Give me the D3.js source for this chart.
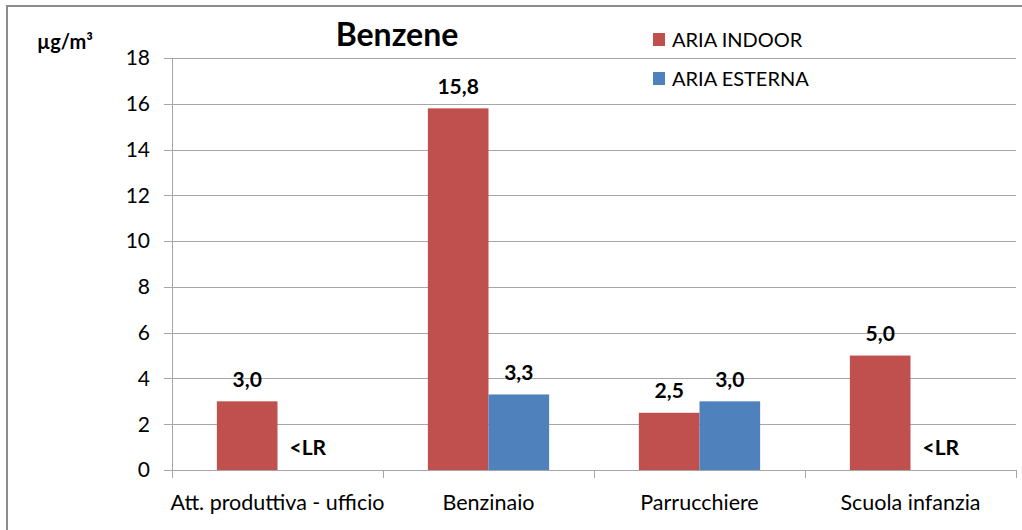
<!DOCTYPE html>
<html>
<head>
<meta charset="utf-8">
<script src="https://cdn.jsdelivr.net/npm/d3@7"></script>
<style>
  body { margin: 0; background: #fff; }
  svg { display: block; font-family: Lato, "Open Sans", sans-serif; }
</style>
</head>
<body>
<script>
// data
const categories = ["Att. produttiva - ufficio", "Benzinaio", "Parrucchiere", "Scuola infanzia"];
const seriesNames = ["ARIA INDOOR", "ARIA ESTERNA"];
const indoor = [3.0, 15.8, 2.5, 5.0];
const esterna = [null, 3.3, 3.0, null]; // null = below detection limit (<LR)
const yTicks = [0, 2, 4, 6, 8, 10, 12, 14, 16, 18];

const colors = ["#C0504D", "#4F81BD"];
const width = 1022, height = 530;
const margin = {left: 172, right: 6, top: 58, bottom: 60};

const svg = d3.select("body").append("svg")
    .attr("width", width)
    .attr("height", height);

// outer frame (only top/left visible in the picture)
svg.append("path")
    .attr("d", "M7,530 V6 H1022")
    .attr("fill", "none")
    .attr("stroke", "#8c8c8c")
    .attr("stroke-width", 2);

const x = d3.scaleBand()
    .domain(categories)
    .range([margin.left, 1016]);

const sub = d3.scaleBand()
    .domain(seriesNames)
    .range([0, x.bandwidth()])
    .paddingOuter(0.74)
    .paddingInner(0);

const y = d3.scaleLinear()
    .domain([0, 18])
    .range([470, margin.top]);

// gridlines
svg.append("g")
    .selectAll("line")
    .data(yTicks)
    .join("line")
      .attr("x1", margin.left - 8)
      .attr("x2", 1016)
      .attr("y1", d => Math.round(y(d)) + 0.5)
      .attr("y2", d => Math.round(y(d)) + 0.5)
      .attr("stroke", "#a6a6a6");

// y tick labels
svg.append("g")
    .attr("font-size", 21)
    .attr("text-anchor", "end")
    .selectAll("text")
    .data(yTicks)
    .join("text")
      .attr("x", 150)
      .attr("y", d => y(d))
      .attr("dy", "0.35em")
      .attr("fill", "#000")
      .text(d => d);

// y axis line
svg.append("line")
    .attr("x1", margin.left + 0.5).attr("x2", margin.left + 0.5)
    .attr("y1", y(18)).attr("y2", y(0))
    .attr("stroke", "#a6a6a6");

// x axis category ticks
const xTickPos = categories.map(c => x(c)).concat([x.range()[1]]);
svg.append("g")
    .selectAll("line")
    .data(xTickPos)
    .join("line")
      .attr("x1", d => Math.round(d) + 0.5)
      .attr("x2", d => Math.round(d) + 0.5)
      .attr("y1", y(0))
      .attr("y2", y(0) + 8)
      .attr("stroke", "#a6a6a6");

// bars
const rows = categories.map((c, i) => ({cat: c, vals: [indoor[i], esterna[i]]}));

const groups = svg.append("g")
    .selectAll("g")
    .data(rows)
    .join("g")
      .attr("transform", d => `translate(${x(d.cat)},0)`);

groups.selectAll("rect")
    .data(d => d.vals.map((v, j) => ({v, j})).filter(e => e.v != null))
    .join("rect")
      .attr("x", e => sub(seriesNames[e.j]))
      .attr("width", sub.bandwidth())
      .attr("y", e => y(e.v))
      .attr("height", e => y(0) - y(e.v))
      .attr("fill", e => colors[e.j]);

groups.selectAll("text")
    .data(d => d.vals.map((v, j) => ({v, j})))
    .join("text")
      .attr("x", e => sub(seriesNames[e.j]) + sub.bandwidth() / 2)
      .attr("y", e => y(e.v == null ? 0 : e.v) - 22)
      .attr("dy", "0.35em")
      .attr("text-anchor", "middle")
      .attr("font-size", 21)
      .attr("font-weight", "bold")
      .attr("fill", "#000")
      .text(e => e.v == null ? "<LR" : e.v.toFixed(1).replace(".", ","));

// category labels
svg.append("g")
    .attr("font-size", 21.5)
    .attr("text-anchor", "middle")
    .selectAll("text")
    .data(categories)
    .join("text")
      .attr("x", d => x(d) + x.bandwidth() / 2)
      .attr("y", 502)
      .attr("dy", "0.35em")
      .attr("fill", "#000")
      .text(d => d);

// title and unit
svg.append("text")
    .attr("x", 397).attr("y", 46)
    .attr("text-anchor", "middle")
    .attr("font-size", 32)
    .attr("font-weight", "bold")
    .text("Benzene");

svg.append("text")
    .attr("x", 37).attr("y", 49)
    .attr("font-size", 20)
    .attr("font-weight", "bold")
    .text("µg/m³");

// legend
const legend = svg.append("g")
    .selectAll("g")
    .data(seriesNames)
    .join("g")
      .attr("transform", (d, i) => `translate(653,${40 + i * 39})`);

legend.append("rect")
    .attr("x", 0).attr("y", -7)
    .attr("width", 12).attr("height", 13)
    .attr("fill", (d, i) => colors[i]);

legend.append("text")
    .attr("x", 19)
    .attr("dy", "0.35em")
    .attr("font-size", 20)
    .text(d => d);
</script>
</body>
</html>
